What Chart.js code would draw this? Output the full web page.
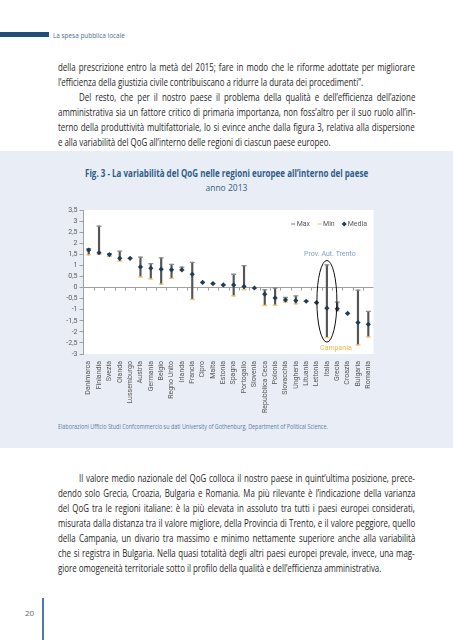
<!DOCTYPE html>
<html lang="it">
<head>
<meta charset="UTF-8">
<script src="https://cdn.jsdelivr.net/npm/chart.js@4.4.1/dist/chart.umd.min.js"></script>
<title>La variabilità del QoG</title>
<style>
  body { margin: 0; width: 453px; height: 640px; background: #fff; position: relative; overflow: hidden;
         font-family: "Open Sans", "Noto Sans", sans-serif; color: #262626; }
  span { display: inline-block; white-space: nowrap; transform-origin: 0 50%; }
  .bar { position: absolute; left: 0; top: 32px; width: 49px; height: 5px; background: #1f4e79; }
  .running { position: absolute; left: 53px; top: 29px; font-size: 8px; line-height: 12px; color: #4d6e91; }
  .para { position: absolute; left: 58px; width: 357px; font-size: 10px; }
  .ln { height: 15px; line-height: 15px; white-space: nowrap; }
  .ind { padding-left: 21px; }
  .panel { position: absolute; left: 0; top: 151px; width: 453px; height: 297px; background: #e9edf5; }
  .title { position: absolute; left: 0; width: 453px; text-align: center; color: #2f5d8a; line-height: 14px; }
  .title span { transform-origin: 50% 50%; }
  .source { position: absolute; left: 58px; top: 421px; font-size: 7px; line-height: 12px; color: #5a7ea8; }
  .pageno { position: absolute; left: 25px; top: 607px; font-size: 8px; line-height: 12px; color: #666; }
  .vline { position: absolute; left: 42px; top: 598px; width: 1.5px; height: 42px; background: #4a7ab0; }
  #qog { position: absolute; left: 40px; top: 200px; }
</style>
</head>
<body>
<div class="bar"></div>
<div class="running"><span id="run">La spesa pubblica locale</span></div>

<div class="para" style="top:59.5px">
  <div class="ln j"><span>della prescrizione entro la metà del 2015; fare in modo che le riforme adottate per migliorare</span></div>
  <div class="ln"><span>l’efficienza della giustizia civile contribuiscano a ridurre la durata dei procedimenti”.</span></div>
  <div class="ln j ind"><span>Del resto, che per il nostro paese il problema della qualità e dell’efficienza dell’azione</span></div>
  <div class="ln j"><span>amministrativa sia un fattore critico di primaria importanza, non foss’altro per il suo ruolo all’in-</span></div>
  <div class="ln j"><span>terno della produttività multifattoriale, lo si evince anche dalla figura 3, relativa alla dispersione</span></div>
  <div class="ln"><span>e alla variabilità del QoG all’interno delle regioni di ciascun paese europeo.</span></div>
</div>

<div class="panel"></div>
<div class="title" style="top:166px;font-size:10.5px;font-weight:bold"><span id="tit">Fig. 3 - La variabilità del QoG nelle regioni europee all’interno del paese</span></div>
<div class="title" style="top:181px;font-size:9.5px"><span id="anno">anno 2013</span></div>
<canvas id="qog" width="360" height="220"></canvas>
<div class="source"><span id="src">Elaborazioni Ufficio Studi Confcommercio su dati University of Gothenburg, Department of Political Science.</span></div>

<div class="para" style="top:470.5px">
  <div class="ln j ind"><span>Il valore medio nazionale del QoG colloca il nostro paese in quint’ultima posizione, prece-</span></div>
  <div class="ln j"><span>dendo solo Grecia, Croazia, Bulgaria e Romania. Ma più rilevante è l’indicazione della varianza</span></div>
  <div class="ln j"><span>del QoG tra le regioni italiane: è la più elevata in assoluto tra tutti i paesi europei considerati,</span></div>
  <div class="ln j"><span>misurata dalla distanza tra il valore migliore, della Provincia di Trento, e il valore peggiore, quello</span></div>
  <div class="ln j"><span>della Campania, un divario tra massimo e minimo nettamente superiore anche alla variabilità</span></div>
  <div class="ln j"><span>che si registra in Bulgaria. Nella quasi totalità degli altri paesi europei prevale, invece, una mag-</span></div>
  <div class="ln"><span>giore omogeneità territoriale sotto il profilo della qualità e dell’efficienza amministrativa.</span></div>
</div>

<div class="pageno">20</div>
<div class="vline"></div>

<script>
// dati (QoG 2013, regioni per paese)
var countries = ['Danimarca', 'Finlandia', 'Svezia', 'Olanda', 'Lussemburgo', 'Austria', 'Germania', 'Belgio',
  'Regno Unito', 'Irlanda', 'Francia', 'Cipro', 'Malta', 'Estonia', 'Spagna', 'Portogallo', 'Slovenia',
  'Repubblica Ceca', 'Polonia', 'Slovacchia', 'Ungheria', 'Lituania', 'Lettonia', 'Italia', 'Grecia',
  'Croazia', 'Bulgaria', 'Romania'];
var maxQoG = [1.76, 2.77, 1.53, 1.64, 1.32, 1.37, 1.08, 1.34, 1.05, 0.92, 1.14, 0.23, 0.18, 0.12, 0.60, 0.99,
  -0.02, -0.09, -0.02, -0.45, -0.38, -0.62, -0.68, 1.02, -0.66, -1.17, -0.12, -1.08];
var minQoG = [1.47, 1.50, 1.41, 1.20, 1.32, 0.48, 0.39, 0.15, 0.41, 0.76, -0.54, 0.23, 0.18, 0.12, -0.38, -0.10,
  -0.02, -0.81, -0.80, -0.66, -0.74, -0.62, -0.68, -2.26, -1.05, -1.17, -2.59, -2.23];
var mediaQoG = [1.69, 1.57, 1.49, 1.32, 1.32, 0.93, 0.87, 0.83, 0.80, 0.80, 0.60, 0.23, 0.18, 0.12, 0.12, 0.05,
  -0.02, -0.30, -0.47, -0.56, -0.59, -0.62, -0.68, -0.93, -0.96, -1.17, -1.58, -1.66];
var yTicks = { min: -3, max: 3.5, step: 0.5 };

var fontFam = 'Roboto, "Open Sans", sans-serif';
var maxColor = '#8c8c8c', minColor = '#f5c673', mediaColor = '#1d3c5a';

// il testo originale e' in un condensato: stringo in orizzontale e giustifico
function squeeze(id, w) {
  var el = document.getElementById(id);
  el.style.transform = 'scaleX(' + (w / el.offsetWidth) + ')';
}
squeeze('run', 72);
squeeze('tit', 283);
squeeze('anno', 42);
squeeze('src', 270);

var spans = Array.prototype.slice.call(document.querySelectorAll('.ln span'));
function avail(s) { return 357 - (s.parentNode.classList.contains('ind') ? 21 : 0); }
var k = Math.min.apply(null, spans.filter(function (s) { return s.parentNode.classList.contains('j'); })
  .map(function (s) { return avail(s) / s.offsetWidth; })) * 0.99;
spans.forEach(function (s) {
  if (s.parentNode.classList.contains('j')) {
    var n = (s.textContent.match(/ /g) || []).length;
    s.style.wordSpacing = ((avail(s) / k - s.offsetWidth) / n) + 'px';
  }
  s.style.transform = 'scaleX(' + k + ')';
});

var extras = {
  id: 'extras',
  beforeDraw: function (chart) {
    var a = chart.chartArea, ctx = chart.ctx;
    ctx.save();
    ctx.fillStyle = '#fff';
    ctx.fillRect(a.left, a.top, a.right - a.left, a.bottom - a.top);
    ctx.restore();
  },
  beforeDatasetsDraw: function (chart) {
    var ctx = chart.ctx, x = chart.scales.x, y = chart.scales.y;
    var y0 = y.getPixelForValue(0);
    ctx.save();
    ctx.strokeStyle = '#a0a0a0';
    ctx.lineWidth = 1;
    ctx.beginPath();
    for (var k = 1; k < countries.length; k++) {
      var xb = Math.round((x.getPixelForValue(k - 1) + x.getPixelForValue(k)) / 2) + 0.5;
      ctx.moveTo(xb, y0);
      ctx.lineTo(xb, y0 + 3);
    }
    ctx.stroke();
    ctx.restore();
  },
  afterDatasetsDraw: function (chart) {
    var ctx = chart.ctx, x = chart.scales.x, y = chart.scales.y, a = chart.chartArea;
    var i = countries.indexOf('Italia');
    var cx = x.getPixelForValue(i);
    var top = y.getPixelForValue(maxQoG[i]), bot = y.getPixelForValue(minQoG[i]);
    ctx.save();
    ctx.strokeStyle = '#111';
    ctx.lineWidth = 1;
    ctx.beginPath();
    ctx.ellipse(cx, (top + bot) / 2, 10, (bot - top) / 2 + 4.5, 0, 0, Math.PI * 2);
    ctx.stroke();
    ctx.font = '7px ' + fontFam;
    ctx.textAlign = 'center';
    ctx.textBaseline = 'middle';
    ctx.fillStyle = '#7f9fc8';
    ctx.fillText('Prov. Aut. Trento', cx + 3, top - 11);
    ctx.fillStyle = '#f2b84b';
    ctx.fillText('Campania', cx + 9, bot + 11);

    // legenda dentro l'area del grafico
    var items = chart.data.datasets.slice(1);
    var widths = items.map(function (d) { return 6 + ctx.measureText(d.label).width; });
    var total = widths.reduce(function (s, w) { return s + w; }, 0) + 7 * (items.length - 1);
    var lx = a.right - 6 - total, ly = a.top + 14;
    ctx.textAlign = 'left';
    items.forEach(function (d, k) {
      if (d.pointStyle === 'line') {
        ctx.strokeStyle = d.borderColor;
        ctx.lineWidth = 1.2;
        ctx.beginPath();
        ctx.moveTo(lx, ly);
        ctx.lineTo(lx + 4, ly);
        ctx.stroke();
      } else {
        ctx.fillStyle = d.backgroundColor;
        ctx.beginPath();
        ctx.moveTo(lx + 2, ly - 2.5);
        ctx.lineTo(lx + 4.5, ly);
        ctx.lineTo(lx + 2, ly + 2.5);
        ctx.lineTo(lx - 0.5, ly);
        ctx.closePath();
        ctx.fill();
      }
      ctx.fillStyle = '#595959';
      ctx.fillText(d.label, lx + 5.5, ly);
      lx += widths[k] + 7;
    });
    ctx.restore();
  }
};

new Chart(document.getElementById('qog'), {
  type: 'bar',
  data: {
    labels: countries,
    datasets: [
      {
        label: 'Range',
        data: countries.map(function (c, i) { return [minQoG[i], maxQoG[i]]; }),
        backgroundColor: '#555',
        barThickness: 1.5,
        order: 4
      },
      {
        type: 'line', label: 'Max', data: maxQoG, showLine: false,
        pointStyle: 'line', pointRadius: 2.5, pointBorderWidth: 1.3,
        borderColor: maxColor, backgroundColor: maxColor, order: 3
      },
      {
        type: 'line', label: 'Min', data: minQoG, showLine: false,
        pointStyle: 'line', pointRadius: 2.5, pointBorderWidth: 1.3,
        borderColor: minColor, backgroundColor: minColor, order: 2
      },
      {
        type: 'line', label: 'Media', data: mediaQoG, showLine: false,
        pointStyle: 'rectRot', pointRadius: 2.6, pointBorderWidth: 0,
        borderColor: mediaColor, backgroundColor: mediaColor, order: 1
      }
    ]
  },
  options: {
    responsive: false,
    animation: false,
    layout: { padding: { top: 10, right: 26.5, left: 0, bottom: 0 } },
    plugins: { legend: { display: false }, tooltip: { enabled: false } },
    scales: {
      x: {
        grid: { display: false, drawTicks: false },
        border: { display: false },
        ticks: { autoSkip: false, minRotation: 90, maxRotation: 90, padding: 7,
                 color: '#595959', font: { size: 7, family: fontFam } },
        afterFit: function (s) { s.height = 66; }
      },
      y: {
        min: yTicks.min, max: yTicks.max,
        grid: {
          color: function (c) { return c.tick && c.tick.value === 0 ? '#a0a0a0' : 'rgba(0,0,0,0)'; },
          tickColor: '#a0a0a0', tickLength: 4, lineWidth: 1
        },
        border: { display: true, color: '#a0a0a0' },
        ticks: {
          stepSize: yTicks.step, autoSkip: false, padding: 2, color: '#595959',
          font: { size: 7, family: fontFam },
          callback: function (v) { return String(v).replace('.', ','); }
        },
        afterFit: function (s) { s.width = 43.5; }
      }
    }
  },
  plugins: [extras]
});
</script>
</body>
</html>
